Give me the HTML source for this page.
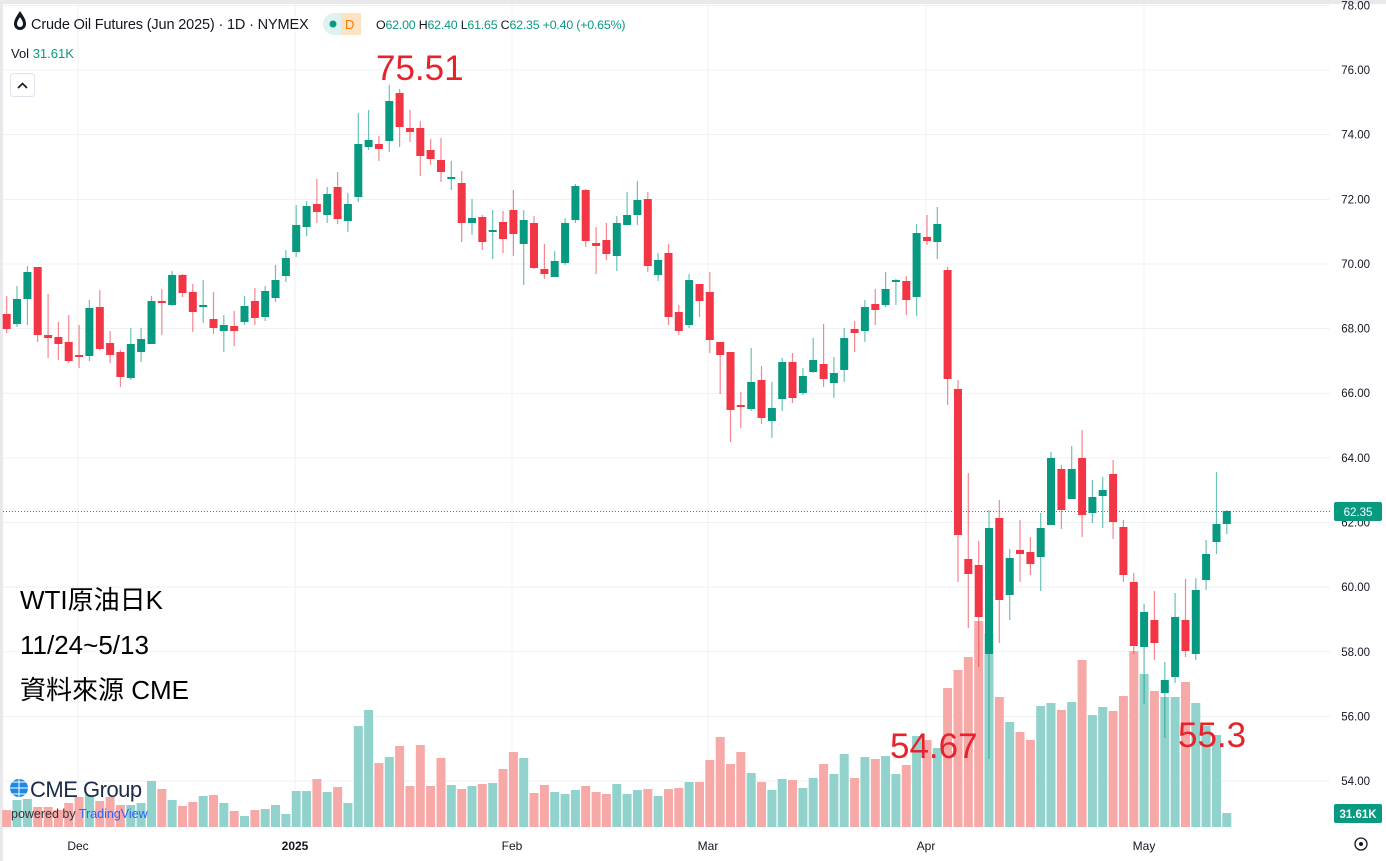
<!DOCTYPE html>
<html><head><meta charset="utf-8">
<style>
html,body{margin:0;padding:0;background:#fff;}
body{width:1386px;height:861px;overflow:hidden;position:relative;font-family:"Liberation Sans","Noto Sans CJK TC",sans-serif;}
svg{position:absolute;left:0;top:0;}
</style></head>
<body>
<svg id="c" width="1386" height="861" xmlns="http://www.w3.org/2000/svg"></svg>
<script>
var C=[
['r',314,329,296,333],['g',299,324,286,327],['g',272,299,266,325],['r',267,335,267,342],['r',335,338,294,358],
['r',337,344,322,360],['r',342,361,315,363],['r',355,357,325,368],['g',308,356,300,361],['r',307,349,290,350],
['r',343,355,331,363],['r',352,377,350,387],['g',344,378,328,380],['g',339,352,328,362],['g',301,344,296,344],
['r',301,303,289,335],['g',275,305,271,306],['r',275,293,274,297],['r',292,312,284,332],['g',305,307,280,323],
['r',319,328,292,334],['g',325,331,315,352],['r',326,331,311,346],['g',306,322,296,325],['r',301,318,288,325],
['g',291,317,286,321],['g',280,298,265,302],['g',258,276,250,282],['g',225,252,205,257],['g',206,227,201,236],
['r',204,212,179,223],['g',194,215,187,223],['r',187,219,172,224],['g',204,221,193,232],['g',144,197,113,202],
['g',140,147,110,150],['r',144,149,136,161],['g',101,141,85,152],['r',93,127,89,147],['r',128,132,110,142],
['r',128,156,121,176],['r',150,159,139,165],['r',160,172,138,182],['g',177,179,161,190],['r',183,223,171,242],
['g',218,223,199,235],['r',217,242,215,250],['g',230,232,210,259],['r',222,239,211,253],['r',210,234,190,256],
['g',220,244,210,285],['r',223,268,216,269],['r',269,274,244,279],['g',261,277,251,277],['g',223,263,218,265],
['g',186,220,184,223],['r',190,241,189,247],['r',243,246,227,274],['r',240,254,223,260],['g',223,256,216,271],
['g',215,225,192,225],['g',200,215,181,225],['r',199,266,192,272],['g',260,275,253,281],['r',253,317,244,325],
['r',312,331,305,335],['g',280,325,274,328],['r',284,301,284,317],['r',292,340,272,353],['r',342,355,342,394],
['r',352,410,352,442],['r',405,407,392,428],['g',382,409,348,411],['r',380,418,366,424],['g',408,421,382,438],
['g',362,399,358,411],['r',362,398,353,403],['g',376,393,368,395],['g',360,372,338,373],['r',364,379,324,387],
['g',373,383,357,398],['g',338,370,328,382],['r',329,333,321,352],['g',307,331,300,342],['r',304,310,289,325],
['g',289,305,272,307],['g',280,282,279,305],['r',281,300,276,315],['g',233,297,224,316],['r',237,241,215,245],
['g',224,242,207,259],['r',270,379,267,405],['r',389,535,380,582],['r',559,574,473,628],['r',565,617,541,667],
['g',528,654,510,759],['r',518,600,500,643],['g',558,595,549,620],['r',550,554,520,582],['r',552,564,537,575],
['g',528,557,513,591],['g',458,525,452,525],['r',469,510,465,529],['g',469,499,446,499],['r',458,515,430,537],
['g',497,513,480,523],['g',490,496,477,528],['r',474,522,460,539],['r',527,575,520,582],['r',582,646,573,654],
['g',612,647,604,704],['r',620,643,591,660],['g',680,693,662,738],['g',617,677,593,683],['r',620,651,579,657],
['g',590,654,578,660],['g',554,580,540,590],['g',524,542,472,554],['g',511,524,510,534]
];
var V=[810,800,799,807,807,810,803,797,795,801,797,805,805,803,781,789,800,806,802,796,795,803,811,816,810,809,805,814,791,791,779,792,787,803,726,710,763,757,746,786,745,786,758,785,789,786,784,783,769,752,758,793,785,792,794,790,786,792,794,784,794,790,789,796,789,788,782,782,760,737,764,752,773,782,790,779,780,788,778,764,774,754,778,757,759,756,774,765,736,740,748,688,670,657,621,633,697,722,732,740,706,703,710,702,660,715,707,711,696,651,674,691,697,697,682,703,726,735,813];
var s='';
s+='<rect x="0" y="0" width="1386" height="4" fill="#e9e9ec"/><rect x="0" y="0" width="3" height="861" fill="#e9e9ec"/>';
for(var k=0;k<13;k++){var y=5.4+k*64.64;s+='<line x1="3" x2="1330" y1="'+y+'" y2="'+y+'" stroke="#f0f1f3" stroke-width="1"/>';}
[78,295,512,708,926,1144].forEach(function(x){s+='<line x1="'+x+'" x2="'+x+'" y1="4" y2="828" stroke="#f0f1f3"/>';});
for(var i=0;i<V.length;i++){var x=6.7+10.34*i;var col=C[i][0]=='g'?'#92d2cc':'#f7a9a7';s+='<rect x="'+(x-4.5).toFixed(1)+'" y="'+V[i]+'" width="9" height="'+(827-V[i])+'" fill="'+col+'"/>';}
for(var i=0;i<C.length;i++){var d=C[i],x=6.7+10.34*i;var col=d[0]=='g'?'#089981':'#f23645';
s+='<line x1="'+x.toFixed(1)+'" x2="'+x.toFixed(1)+'" y1="'+d[3]+'" y2="'+d[4]+'" stroke="'+col+'" stroke-opacity="0.6" stroke-width="1.2"/>';
var h=Math.max(2,d[2]-d[1]);s+='<rect x="'+(x-4).toFixed(1)+'" y="'+d[1]+'" width="8" height="'+h+'" fill="'+col+'"/>';}
s+='<line x1="3" x2="1330" y1="511.5" y2="511.5" stroke="#089981" stroke-dasharray="1,2" stroke-width="1"/>';
var labs=['78.00','76.00','74.00','72.00','70.00','68.00','66.00','64.00','62.00','60.00','58.00','56.00','54.00'];
for(var k=0;k<13;k++){var y=5.4+k*64.64;s+='<text x="1370" y="'+(y+4)+'" font-size="11.5" fill="#131722" text-anchor="end">'+labs[k]+'</text>';}
s+='<rect x="1334" y="502" width="48" height="19" rx="2" fill="#089981"/><text x="1358" y="516" font-size="11.5" fill="#fff" text-anchor="middle">62.35</text>';
s+='<rect x="1334" y="804" width="48" height="19" rx="2" fill="#089981"/><text x="1358" y="818" font-size="11.5" fill="#fff" text-anchor="middle" font-weight="bold">31.61K</text>';
s+='<circle cx="1361" cy="844" r="6" fill="none" stroke="#131722" stroke-width="1.3"/><circle cx="1361" cy="844" r="2" fill="#131722"/>';
[['Dec',78,''],['2025',295,'bold'],['Feb',512,''],['Mar',708,''],['Apr',926,''],['May',1144,'']].forEach(function(a){s+='<text x="'+a[1]+'" y="850" font-size="12" fill="#131722" text-anchor="middle" font-weight="'+a[2]+'">'+a[0]+'</text>';});
s+='<path d="M20 11 C16 17 14 20 14 24 A6 6 0 0 0 26 24 C26 20 24 17 20 11Z" fill="#131722"/><path d="M20 17 C18 20 17 22 17 24 A3 3 0 0 0 23 24 C23 22 22 20 20 17Z" fill="#fff"/>';
s+='<text x="31" y="29" font-size="14.5" fill="#131722" letter-spacing="-0.15">Crude Oil Futures (Jun 2025) · 1D · NYMEX</text>';
s+='<rect x="323" y="13" width="38" height="22" rx="11" fill="#def3ef"/><rect x="341" y="13" width="20" height="22" rx="0" fill="#fde3c3"/><rect x="350" y="13" width="11" height="22" rx="11" fill="#fde3c3"/>';
s+='<circle cx="333" cy="24" r="3.5" fill="#089981"/><text x="345" y="29" font-size="13" fill="#f57c00">D</text>';
s+='<text x="376" y="29" font-size="12.4" fill="#131722" letter-spacing="-0.2">O<tspan fill="#089981">62.00</tspan> H<tspan fill="#089981">62.40</tspan> L<tspan fill="#089981">61.65</tspan> C<tspan fill="#089981">62.35 +0.40 (+0.65%)</tspan></text>';
s+='<text x="11" y="58" font-size="13" fill="#131722">Vol <tspan fill="#089981">31.61K</tspan></text>';
s+='<rect x="10.5" y="73.5" width="24" height="23" rx="3" fill="#fff" stroke="#e0e3eb"/><path d="M18 88 L22.5 83.5 L27 88" fill="none" stroke="#131722" stroke-width="1.6"/>';
s+='<text x="376" y="80" font-size="35" fill="#e8222a">75.51</text>';
s+='<text x="890" y="758" font-size="35" fill="#e8222a">54.67</text>';
s+='<text x="1178" y="747" font-size="35" fill="#e8222a">55.3</text>';
s+='<text x="20" y="609" font-size="26" fill="#000">WTI原油日K</text>';
s+='<text x="20" y="654" font-size="26" fill="#000">11/24~5/13</text>';
s+='<text x="20" y="699" font-size="26" fill="#000">資料來源 CME</text>';
s+='<circle cx="19" cy="788" r="9" fill="#1e88e5"/><path d="M10 788 H28 M19 779 V797 M12 782 H26 M12 794 H26" stroke="#fff" stroke-width="1"/>';
s+='<text x="30" y="797" font-size="22" fill="#1b2a4a" letter-spacing="-0.5">CME Group</text>';
s+='<text x="11" y="818" font-size="12.5" fill="#333">powered by <tspan fill="#2962ff">TradingView</tspan></text>';
document.getElementById('c').innerHTML=s;
</script>
</body></html>
